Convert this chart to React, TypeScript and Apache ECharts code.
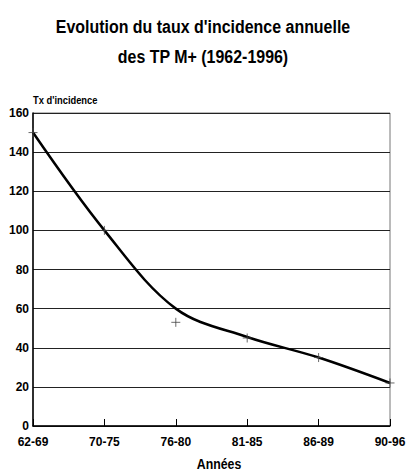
import React, { useEffect, useRef } from "react";
import * as echarts from "echarts";

const categories = ["62-69", "70-75", "76-80", "81-85", "86-89", "90-96"];
const observed = [150, 100, 53, 45, 35, 22];
const trend = [150, 100, 60, 45.5, 35, 22];
const yTicks = [0, 20, 40, 60, 80, 100, 120, 140, 160];
const titleLines = ["Evolution du taux d'incidence annuelle", "des TP M+ (1962-1996)"];

const FONT = "'Liberation Sans', Arial, sans-serif";

export default function App() {
  const ref = useRef<HTMLDivElement>(null);
  useEffect(() => {
    if (!ref.current) return;
    const chart = echarts.init(ref.current, null, { renderer: "svg" });
    chart.setOption({
      animation: false,
      backgroundColor: "#fff",
      graphic: [
        ...titleLines.map((t, i) => ({
          type: "text",
          x: 203,
          y: 27 + i * 30,
          scaleX: 0.84,
          style: { text: t, fontFamily: FONT, fontWeight: "bold", fontSize: 19, fill: "#000", align: "center", verticalAlign: "middle" },
        })),
        {
          type: "text",
          x: 33,
          y: 100,
          scaleX: 0.85,
          style: { text: "Tx d'incidence", fontFamily: FONT, fontWeight: "bold", fontSize: 11, fill: "#000", align: "left", verticalAlign: "middle" },
        },
        {
          type: "text",
          x: 219,
          y: 464,
          scaleX: 0.88,
          style: { text: "Années", fontFamily: FONT, fontWeight: "bold", fontSize: 14, fill: "#000", align: "center", verticalAlign: "middle" },
        },
      ],
      grid: { left: 33, right: 16, top: 113, bottom: 46, show: true, borderColor: "#777", borderWidth: 1, outerBoundsMode: "none", containLabel: false },
      xAxis: {
        type: "category",
        data: categories,
        boundaryGap: false,
        axisLine: { lineStyle: { color: "#000", width: 1.5 } },
        axisTick: { inside: true, length: 7, lineStyle: { color: "#000" } },
        axisLabel: { fontFamily: FONT, fontWeight: "bold", fontSize: 12, color: "#000", margin: 10 },
        splitLine: { show: false },
      },
      yAxis: {
        type: "value",
        min: 0,
        max: 160,
        interval: 20,
        axisLine: { show: true, lineStyle: { color: "#000", width: 1.5 } },
        axisTick: { show: false },
        axisLabel: { fontFamily: FONT, fontWeight: "bold", fontSize: 12, color: "#000", margin: 4,
          formatter: (v: number) => (yTicks.includes(v) ? String(v) : "") },
        splitLine: { show: true, lineStyle: { color: "#222", width: 1 } },
      },
      series: [
        {
          type: "line",
          data: trend,
          smooth: 0.35,
          symbol: "none",
          lineStyle: { color: "#000", width: 2.5 },
          z: 3,
        },
        {
          type: "scatter",
          data: observed,
          symbol: "path://M0,5L10,5M5,0L5,10",
          symbolSize: 9,
          itemStyle: { color: "transparent", borderColor: "#444", borderWidth: 1 },
          z: 4,
        },
      ],
    });
    return () => chart.dispose();
  }, []);
  return <div ref={ref} style={{ width: 406, height: 472, position: "absolute", left: 0, top: 0 }} />;
}
